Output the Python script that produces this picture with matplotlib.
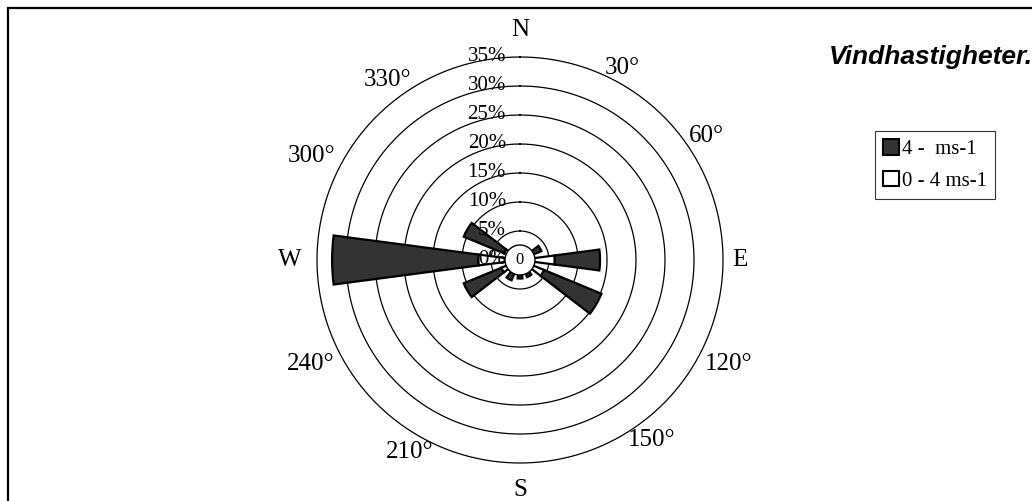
import numpy as np
import matplotlib
matplotlib.use("Agg")
import matplotlib.pyplot as plt
from matplotlib.patches import Patch, Rectangle, Circle
import matplotlib.transforms as mtransforms

plt.rcParams['font.family'] = ['Liberation Serif', 'DejaVu Serif']

# wind directions (degrees from north) and frequency (%) per speed class
directions = [0, 30, 60, 90, 120, 150, 180, 210, 240, 270, 300, 330]
low_speed = [2.0, 2.0, 2.4, 6.0, 4.5, 2.6, 2.6, 2.4, 3.5, 7.2, 3.0, 2.0]   # 0 - 4 ms-1
high_speed = [0.0, 0.0, 1.6, 7.8, 10.7, 0.6, 0.6, 1.4, 7.0, 25.2, 7.5, 0.0]  # 4 -  ms-1

ring_values = [0, 5, 10, 15, 20, 25, 30, 35]
ring_labels = ['0%', '5%', '10%', '15%', '20%', '25%', '30%', '35%']
compass_labels = ['N', '30°', '60°', 'E', '120°', '150°', 'S', '210°', '240°', 'W', '300°', '330°']
series_names = ['4 -  ms-1', '0 - 4 ms-1']

# where the compass labels sit (angle in degrees, distance from centre in px)
label_angle = [0, 28, 56.4, 90, 116.5, 143.7, 180, 209.8, 243.6, 270, 296.5, 323.7]
label_dist = [230, 218, 224, 220, 233, 223, 230, 221, 234, 230, 233, 223]

dark = '#333333'
W, H = 1032, 501
fig = plt.figure(figsize=(W / 100, H / 100), dpi=100)

cx, cy = 520, 260
px_per_pct = 203 / 35
rmax = 35.5
R = rmax * px_per_pct
ax = fig.add_axes([(cx - R) / W, (H - cy - R) / H, 2 * R / W, 2 * R / H], projection='polar')
ax.set_theta_zero_location('N')
ax.set_theta_direction(-1)
ax.set_ylim(0, rmax)
ax.set_yticks([])
ax.set_xticks([])
ax.grid(False)
ax.spines['polar'].set_visible(False)
ax.patch.set_alpha(0)

th = np.linspace(0, 2 * np.pi, 361)
for r in ring_values[1:]:
    ax.plot(th, np.full_like(th, r), color='black', lw=0.9, zorder=1)

theta = np.deg2rad(directions)
width = np.deg2rad(15)
ax.bar(theta, low_speed, width=width, bottom=0, color='white', edgecolor='black', lw=1.6, zorder=2)
ax.bar(theta, high_speed, width=width, bottom=low_speed, color=dark, edgecolor='black', lw=1.6, zorder=2)

# ring labels, just left of north
off = mtransforms.offset_copy(ax.transData, fig=fig, x=-14, y=0, units='dots')
for r, lab in zip(ring_values, ring_labels):
    ax.text(0, r, lab, transform=off, ha='right', va='center', fontsize=15, zorder=3)

# calm circle in the centre
hole = Circle((0.5, 0.5), 15 / (2 * R), transform=ax.transAxes, facecolor='white',
              edgecolor='black', lw=1.0, zorder=4)
ax.add_artist(hole)
ax.text(0.5, 0.5, '0', transform=ax.transAxes, ha='center', va='center', fontsize=12, zorder=5)

for a, d, lab in zip(label_angle, label_dist, compass_labels):
    ax.text(np.deg2rad(a), d / px_per_pct, lab, ha='center', va='center', fontsize=18, clip_on=False)

fig.text(829 / W, 1 - 57 / H, 'Vindhastigheter.', family='Liberation Sans', fontweight='bold',
         fontstyle='italic', fontsize=19, ha='left', va='center')

handles = [Patch(facecolor=dark, edgecolor='black', lw=1.5),
           Patch(facecolor='white', edgecolor='black', lw=1.5)]
leg = fig.legend(handles, series_names, loc='upper left',
                 bbox_to_anchor=(875 / W, 1 - 131 / H), fontsize=15, frameon=True,
                 fancybox=False, handlelength=0.75, handleheight=0.75, handletextpad=0.15,
                 borderpad=0.4, labelspacing=0.55, borderaxespad=0)
leg.get_frame().set_edgecolor('black')
leg.get_frame().set_linewidth(0.8)

fig.patches.append(Rectangle((8 / W, -0.1), 1.2, 1 - 8 / H + 0.1, transform=fig.transFigure,
                             fill=False, edgecolor='black', lw=1.6))

fig.savefig('out.png', dpi=100)
